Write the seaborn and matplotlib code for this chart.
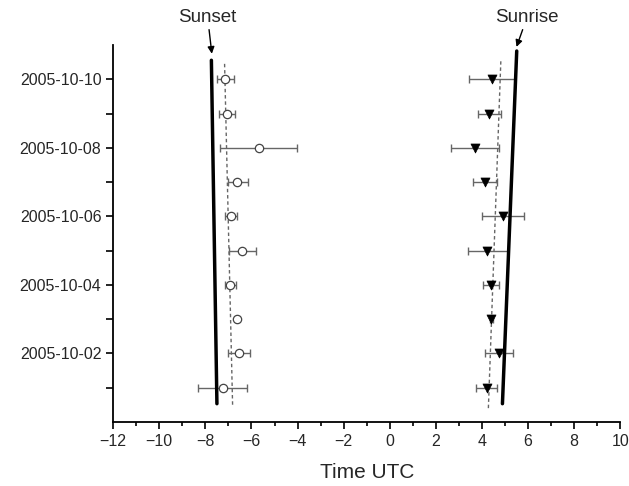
import numpy as np
import pandas as pd
import matplotlib
matplotlib.use("Agg")
import matplotlib.pyplot as plt
import seaborn as sns

# Day of October 2005
days = [1, 2, 3, 4, 5, 6, 7, 8, 9, 10]

# Sunset-related events (open circles), hours UTC
sunset_mean = [-7.24, -6.55, -6.63, -6.92, -6.39, -6.89, -6.61, -5.68, -7.07, -7.17]
sunset_lo = [-8.31, -7.04, -6.66, -7.17, -6.97, -7.17, -7.04, -7.36, -7.40, -7.50]
sunset_hi = [-6.19, -6.06, -6.60, -6.66, -5.81, -6.63, -6.16, -4.03, -6.71, -6.78]

# Sunrise-related events (filled triangles)
sunrise_mean = [4.20, 4.75, 4.41, 4.41, 4.23, 4.93, 4.14, 3.70, 4.31, 4.44]
sunrise_lo = [3.76, 4.14, 4.36, 4.05, 3.40, 4.02, 3.62, 2.66, 3.82, 3.44]
sunrise_hi = [4.67, 5.37, 4.46, 4.76, 5.12, 5.84, 4.64, 4.75, 4.82, 5.44]

# Astronomical sunset / sunrise lines and trend (dashed) lines
sunset_line_x = [-7.50, -7.74]
sunset_line_y = [0.53, 10.56]
sunrise_line_x = [4.89, 5.51]
sunrise_line_y = [0.53, 10.83]
sunset_trend_x = [-6.82, -7.17]
sunset_trend_y = [0.5, 10.53]
sunrise_trend_x = [4.28, 4.82]
sunrise_trend_y = [0.4, 10.53]

ytick_pos = [2, 4, 6, 8, 10]
ytick_labels = ["2005-10-02", "2005-10-04", "2005-10-06", "2005-10-08", "2005-10-10"]

sns.set_style("ticks")
plt.rcParams["font.family"] = ["Liberation Sans", "DejaVu Sans"]

fig = plt.figure(figsize=(6.29, 4.86), dpi=100)
ax = fig.add_axes([0.18, 0.132, 0.806, 0.775])

df_set = pd.DataFrame({"t": sunset_mean, "day": days})
df_rise = pd.DataFrame({"t": sunrise_mean, "day": days})

# error bars
ax.errorbar(sunset_mean, days,
            xerr=[np.array(sunset_mean) - np.array(sunset_lo), np.array(sunset_hi) - np.array(sunset_mean)],
            fmt="none", ecolor="#666666", elinewidth=1, capsize=3, capthick=1, zorder=2)
ax.errorbar(sunrise_mean, days,
            xerr=[np.array(sunrise_mean) - np.array(sunrise_lo), np.array(sunrise_hi) - np.array(sunrise_mean)],
            fmt="none", ecolor="#666666", elinewidth=1, capsize=3, capthick=1, zorder=2)

# thick lines and dashed trend lines
sns.lineplot(x=sunset_line_x, y=sunset_line_y, sort=False, color="black", lw=2.5, ax=ax)
sns.lineplot(x=sunrise_line_x, y=sunrise_line_y, sort=False, color="black", lw=2.5, ax=ax)
sns.lineplot(x=sunset_trend_x, y=sunset_trend_y, sort=False, color="#666666", lw=1, ls=(0, (2.5, 2)), ax=ax)
sns.lineplot(x=sunrise_trend_x, y=sunrise_trend_y, sort=False, color="#666666", lw=1, ls=(0, (2.5, 2)), ax=ax)

# markers
sns.scatterplot(data=df_set, x="t", y="day", marker="o", s=36, facecolor="white",
                edgecolor="#444444", linewidth=0.9, ax=ax, zorder=4)
sns.scatterplot(data=df_rise, x="t", y="day", marker="v", s=42, color="black",
                edgecolor="black", ax=ax, zorder=4)

ax.set_xlim(-12, 10)
ax.set_ylim(0, 11)
ax.set_xticks(np.arange(-12, 11, 2))
ax.set_xticks(np.arange(-11, 10, 2), minor=True)
ax.set_xticklabels(["\u2212" + str(abs(v)) if v < 0 else str(v) for v in range(-12, 11, 2)])
ax.set_yticks(ytick_pos)
ax.set_yticks([1, 3, 5, 7, 9], minor=True)
ax.set_yticklabels(ytick_labels)
ax.tick_params(axis="both", which="major", labelsize=11.5, length=5, width=1.2, color="black")
ax.tick_params(axis="y", which="minor", length=5, width=1.2, color="black")
ax.tick_params(axis="x", which="minor", length=3, width=1.2, color="black")
ax.set_xlabel("Time UTC", fontsize=15, labelpad=10)
ax.set_ylabel("")
sns.despine(ax=ax)
for sp in ["left", "bottom"]:
    ax.spines[sp].set_linewidth(1.3)
    ax.spines[sp].set_color("black")

# annotations
ax.annotate("Sunset", xy=(-7.72, 10.75), xytext=(-7.9, 11.55), textcoords="data",
            ha="center", va="bottom", fontsize=13.5, annotation_clip=False,
            arrowprops=dict(arrowstyle="-|>", color="black", lw=1, mutation_scale=10,
                            shrinkA=0, shrinkB=0))
ax.annotate("Sunrise", xy=(5.5, 10.95), xytext=(5.95, 11.55), textcoords="data",
            ha="center", va="bottom", fontsize=13.5, annotation_clip=False,
            arrowprops=dict(arrowstyle="-|>", color="black", lw=1, mutation_scale=10,
                            shrinkA=0, shrinkB=0))

fig.savefig("out.png", dpi=100)
